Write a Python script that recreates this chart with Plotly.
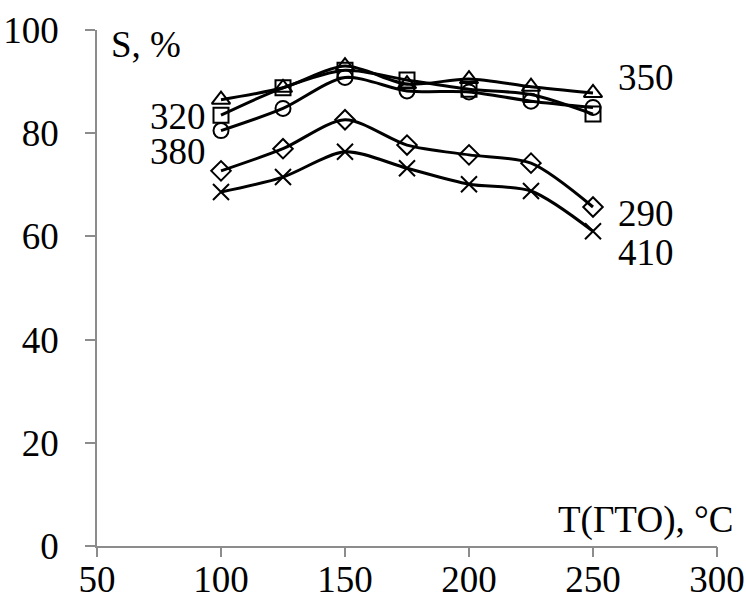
import plotly.graph_objects as go

# Temperature of the treatment stage, °C
temps = [100, 125, 150, 175, 200, 225, 250]

# Selectivity S, % for each series (label = series temperature)
s_350 = [86.5, 88.8, 93.0, 89.5, 90.5, 89.0, 87.8]
s_320 = [83.5, 88.8, 92.2, 90.3, 88.5, 87.5, 83.7]
s_380 = [80.5, 84.8, 90.8, 88.2, 88.0, 86.2, 85.0]
s_290 = [72.7, 77.0, 82.6, 77.7, 75.8, 74.2, 65.7]
s_410 = [68.6, 71.5, 76.4, 73.2, 70.1, 68.8, 61.0]

x_ticks = [50, 100, 150, 200, 250, 300]
y_ticks = [0, 20, 40, 60, 80, 100]

series = [
    ("350", s_350, "triangle-up-open", 16),
    ("320", s_320, "square-open", 15),
    ("380", s_380, "circle-open", 15),
    ("290", s_290, "diamond-open", 15),
    ("410", s_410, "x-thin-open", 16),
]

FONT = "Liberation Serif"
FS = 37
AXIS_GREY = "#8c8c8c"

fig = go.Figure()
for name, vals, symbol, size in series:
    fig.add_trace(go.Scatter(
        x=temps, y=vals, name=name, mode="lines+markers",
        line=dict(color="black", width=3, shape="spline", smoothing=0.8),
        marker=dict(symbol=symbol, size=size, color="black",
                    line=dict(color="black", width=2)),
        showlegend=False, cliponaxis=False,
    ))

# empty trace so the tick-mark-only overlay axis gets drawn
fig.add_trace(go.Scatter(x=temps[:1], y=[None], xaxis="x2", yaxis="y",
                         mode="markers", showlegend=False, hoverinfo="skip"))

labels = [
    ("S, %", 55.2, 97.1, "left"),
    ("320", 94.4, 83.3, "right"),
    ("380", 94.4, 76.5, "right"),
    ("350", 259.7, 90.7, "left"),
    ("290", 259.7, 64.5, "left"),
    ("410", 259.7, 56.8, "left"),
    ("T(ГТО), °C", 235.5, 5.0, "left"),
]
for text, x, y, anchor in labels:
    fig.add_annotation(x=x, y=y, xref="x", yref="y", text=text,
                       showarrow=False, xanchor=anchor, yanchor="middle",
                       borderpad=0, font=dict(family=FONT, size=FS, color="black"))

tickfont = dict(family=FONT, size=FS, color="black")

fig.update_layout(
    width=746, height=602,
    margin=dict(l=97, r=29, t=30, b=56),
    paper_bgcolor="white", plot_bgcolor="white",
    # labelled x axis: tick labels sit close under the axis line
    xaxis=dict(range=[50, 300], tickvals=x_ticks, showgrid=False,
               zeroline=False, showline=True, linecolor=AXIS_GREY,
               linewidth=1.5, ticks="", automargin=False, tickfont=tickfont),
    # overlay x axis that only draws the outside tick marks
    xaxis2=dict(range=[50, 300], tickvals=x_ticks, overlaying="x",
                anchor="y", side="bottom", showgrid=False, zeroline=False,
                showline=False, ticks="outside", ticklen=10, tickwidth=1.5,
                tickcolor=AXIS_GREY, showticklabels=False, automargin=False),
    yaxis=dict(range=[0, 100], tickvals=y_ticks, showgrid=False,
               zeroline=False, showline=True, linecolor=AXIS_GREY,
               linewidth=1.5, ticks="outside", ticklen=10, tickwidth=1.5,
               tickcolor=AXIS_GREY, ticklabelstandoff=19, automargin=False,
               tickfont=tickfont),
)

fig.write_html("out.html")
